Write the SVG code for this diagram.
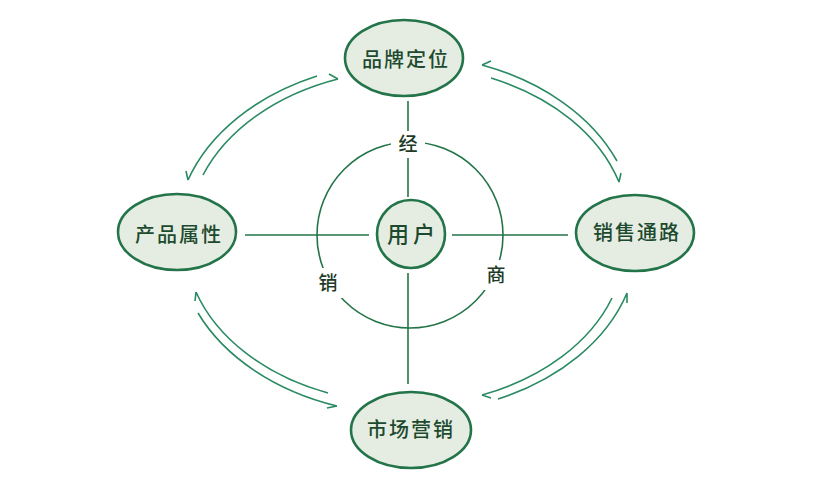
<svg xmlns="http://www.w3.org/2000/svg" width="836" height="489" viewBox="0 0 836 489">
<style>
.node{fill:#e5ede3;stroke:#237448;stroke-width:2.6}
.nt{font-family:"Noto Sans CJK SC","Noto Sans",sans-serif;font-size:20px;font-weight:500;fill:#1d4a2e;text-anchor:middle;letter-spacing:2px}
.lbl{font-family:"Noto Sans CJK SC","Noto Sans",sans-serif;font-size:19px;font-weight:500;fill:#1d3a28;text-anchor:middle}
.ln{fill:none;stroke:#237448;stroke-width:1.6}
.arc{fill:none;stroke:#2a8a62;stroke-width:1.6}
</style>
<rect width="836" height="489" fill="#ffffff"/>
<g id="connectors">
<circle class="ln" cx="410" cy="235" r="93"/>
<line class="ln" x1="408" y1="101" x2="408" y2="197"/>
<line class="ln" x1="408" y1="273" x2="408" y2="384"/>
<line class="ln" x1="245" y1="235" x2="369" y2="235"/>
<line class="ln" x1="452" y1="235" x2="568" y2="235"/>
<path class="arc" d="M317,76 A234,173 0 0 0 188,180 M188,180 L186,171"/>
<path class="arc" d="M203,175 A222,165 0 0 1 338,79 M338,79 L329,74"/>
<path class="arc" d="M617,161 A234,173 0 0 0 482,65 M482,65 L491,61"/>
<path class="arc" d="M491,78 A222,165 0 0 1 619,182 M619,182 L621,173"/>
<path class="arc" d="M328,393 A222,162 0 0 1 196,292 M196,292 L195,301"/>
<path class="arc" d="M198,313 A232,171 0 0 0 337,406 M337,406 L327,408"/>
<path class="arc" d="M612,298 A222,162 0 0 1 482,395 M482,395 L491,398"/>
<path class="arc" d="M498,399 A232,171 0 0 0 627,293 M627,293 L627,303"/>
</g>
<g id="label-jing">
<rect x="391" y="131" width="34" height="27" fill="#ffffff"/>
<text class="lbl" x="408" y="151">经</text>
</g>
<g id="label-xiao">
<rect x="312" y="268" width="32" height="30" fill="#ffffff"/>
<text class="lbl" x="328" y="290">销</text>
</g>
<g id="label-shang">
<rect x="480" y="260" width="32" height="30" fill="#ffffff"/>
<text class="lbl" x="496" y="282">商</text>
</g>
<g id="node-user">
<circle class="node" cx="411" cy="234" r="34"/>
<text class="nt" x="413" y="242" style="font-size:22px;letter-spacing:4px">用户</text>
</g>
<g id="node-brand">
<ellipse class="node" cx="404" cy="58" rx="59" ry="38"/>
<text class="nt" x="406" y="67">品牌定位</text>
</g>
<g id="node-product">
<ellipse class="node" cx="177" cy="232" rx="59" ry="38"/>
<text class="nt" x="179" y="242">产品属性</text>
</g>
<g id="node-channel">
<ellipse class="node" cx="635" cy="233" rx="59" ry="38"/>
<text class="nt" x="637" y="240">销售通路</text>
</g>
<g id="node-marketing">
<ellipse class="node" cx="411" cy="430" rx="60" ry="38"/>
<text class="nt" x="411" y="437">市场营销</text>
</g>
</svg>
